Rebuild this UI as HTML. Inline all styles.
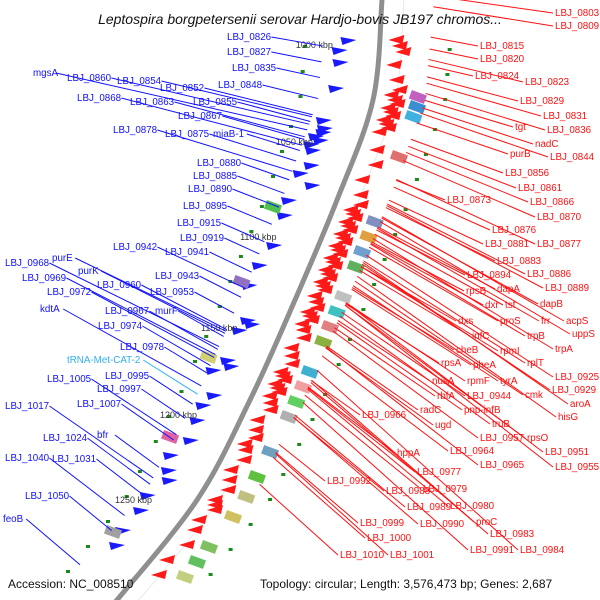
<!DOCTYPE html>
<html><head><meta charset="utf-8"><style>
html,body{margin:0;padding:0;background:#fff;}
svg{display:block;}
text{font-family:"Liberation Sans","DejaVu Sans",sans-serif;}
</style></head><body>
<svg id="chart" width="600" height="600" viewBox="0 0 600 600">
<g id="back"></g>
<path id="backbone" fill="none" stroke="#8f8f8f" stroke-width="5"/>
<g id="lines"></g>
<g id="labels"></g>
<text x="300" y="24" text-anchor="middle" font-size="14" font-style="italic" fill="#111">Leptospira borgpetersenii serovar Hardjo-bovis JB197 chromos...</text>
<text x="8" y="588" font-size="12" fill="#111">Accession: NC_008510</text>
<text x="260" y="588" font-size="12" fill="#111">Topology: circular; Length: 3,576,473 bp; Genes: 2,687</text>
</svg>
<script>
// backbone arc sample points (x at given y)
const arcYs=[-10,0,100,200,300,400,500,600,610];
const arcXs=[383,382,373,337,295,250,197,117,108];
const tickLabels=["1000 kbp","1050 kbp","1100 kbp","1150 kbp","1200 kbp","1250 kbp"];
const tickYs=[45,142,237,328,415,500];
const leftNames=["LBJ_0826","LBJ_0827","LBJ_0835","LBJ_0848","LBJ_0852","LBJ_0854","LBJ_0860","mgsA","LBJ_0868","LBJ_0863","LBJ_0855","LBJ_0867","LBJ_0878","LBJ_0875","miaB-1","LBJ_0880","LBJ_0885","LBJ_0890","LBJ_0895","LBJ_0915","LBJ_0919","LBJ_0942","LBJ_0941","LBJ_0968","purE","purK","LBJ_0969","LBJ_0960","LBJ_0943","LBJ_0972","LBJ_0953","kdtA","LBJ_0967","murF","LBJ_0974","LBJ_0978","tRNA-Met-CAT-2","LBJ_0995","LBJ_1005","LBJ_0997","LBJ_1017","LBJ_1007","bfr","LBJ_1024","LBJ_1040","LBJ_1031","LBJ_1050","feoB"];
const leftX=[227,227,232,218,160,117,67,33,77,130,193,178,113,165,213,197,193,188,183,177,180,113,165,5,52,78,22,97,155,47,150,40,105,155,98,120,67,105,47,97,5,77,97,43,5,52,25,3];
const leftY=[40,55,71,88,91,84,81,76,101,105,105,119,133,137,137,166,179,192,209,226,241,250,255,266,261,274,281,288,279,295,295,312,314,314,329,350,363,379,382,392,409,407,438,441,461,462,499,522];
const rightNames=["LBJ_0803","LBJ_0809","LBJ_0815","LBJ_0820","LBJ_0824","LBJ_0823","LBJ_0829","LBJ_0831","tgt","LBJ_0836","nadC","purB","LBJ_0844","LBJ_0856","LBJ_0861","LBJ_0873","LBJ_0866","LBJ_0870","LBJ_0876","LBJ_0881","LBJ_0877","LBJ_0883","LBJ_0894","LBJ_0886","rpsB","dapA","LBJ_0889","dxr","tsf","dapB","dxs","proS","frr","acpS","infC","trpB","uppS","cheB","rpmI","trpA","rpsA","pheA","rplT","nusA","rpmF","tyrA","LBJ_0925","cmk","LBJ_0929","LBJ_0944","rbfA","aroA","radC","pnp-infB","LBJ_0966","truB","ugd","hisG","rpsO","LBJ_0957","LBJ_0951","LBJ_0964","LBJ_0965","LBJ_0955","hppA","LBJ_0977","LBJ_0992","LBJ_0979","LBJ_0988","LBJ_0980","LBJ_0989","proC","LBJ_0990","LBJ_0983","LBJ_0999","LBJ_1000","LBJ_0991","LBJ_0984","LBJ_1010","LBJ_1001"];
const rightX=[555,555,480,480,475,525,520,543,515,547,535,510,550,505,518,447,530,537,492,485,537,497,467,527,466,497,545,485,505,540,458,500,541,566,472,527,572,456,500,555,441,473,527,432,467,500,555,525,552,467,437,570,420,464,362,492,435,558,527,480,545,450,480,555,397,417,327,423,386,450,407,476,420,490,360,367,470,520,340,390];
const rightY=[16,29,49,62,79,85,104,119,130,133,147,157,160,176,191,203,205,220,233,247,247,264,278,277,294,292,291,308,308,307,324,324,324,324,339,339,337,353,354,352,366,368,366,384,384,384,380,398,393,399,399,407,413,413,418,427,428,420,441,441,455,454,468,470,456,475,484,492,494,509,510,525,527,537,526,541,553,553,558,558];
const redArrowYs=[40,46,52,65,80,90,95,100,104,108,112,116,120,124,128,132,150,165,180,195,205,210,214,218,222,226,230,234,238,242,246,250,254,258,262,266,270,274,278,282,286,290,296,302,308,312,316,320,324,330,338,348,356,364,372,376,380,384,388,392,396,403,410,420,430,438,444,450,460,470,480,490,500,505,510,520,530,545,560,575];
const blueArrowYs=[40,50,62,88,120,128,132,136,140,144,150,165,173,185,200,215,245,265,285,320,324,330,360,366,370,395,405,420,440,455,470,480,495,510,530,545];
const blueOff=[-22,-30,-28,-30,-34,-30,-30,-36,-30,-38,-34,-30,-38,-22,-40,-38,-36,-42,-44,-30,-24,-34,-32,-26,-42,-30,-36,-34,-30,-42,-36,-30,-44,-40,-42,-36];
const boxYs=[90,100,110,150,200,215,230,245,260,275,290,305,320,335,350,365,380,395,410,430,445,470,490,510,525,540,555,570];
const boxColors=["#c060c0","#3a8fd0","#40b0e0","#e07070","#50c050","#8090c0","#e0a040","#70a0d0","#60b060","#9070c0","#c0c0c0","#40c0c0","#e08080","#8ab040","#d0d070","#40b0d0","#f0a0a0","#60d060","#b0b0b0","#e060a0","#70a0c0","#60c040","#c0c080","#d0c060","#a0a0a0","#80c060","#60c060","#c0d080"];
const dotYs=[45,70,95,125,150,175,205,230,255,280,305,335,360,390,415,440,470,495,520,545,570];

function arcX(y){for(let i=0;i<arcYs.length-1;i++){if(y>=arcYs[i]&&y<=arcYs[i+1]){const t=(y-arcYs[i])/(arcYs[i+1]-arcYs[i]);return arcXs[i]+t*(arcXs[i+1]-arcXs[i]);}}return arcXs[arcXs.length-1];}
const NS="http://www.w3.org/2000/svg";
function mk(tag,attrs,parent){const e=document.createElementNS(NS,tag);for(const k in attrs)e.setAttribute(k,attrs[k]);parent.appendChild(e);return e;}
let d="M"+arcXs[0]+","+arcYs[0];
for(let i=0;i<arcXs.length-1;i++){const p0=[arcXs[Math.max(i-1,0)],arcYs[Math.max(i-1,0)]],p1=[arcXs[i],arcYs[i]],p2=[arcXs[i+1],arcYs[i+1]],p3=[arcXs[Math.min(i+2,arcXs.length-1)],arcYs[Math.min(i+2,arcXs.length-1)]];
d+=" C"+(p1[0]+(p2[0]-p0[0])/6)+","+(p1[1]+(p2[1]-p0[1])/6)+" "+(p2[0]-(p3[0]-p1[0])/6)+","+(p2[1]-(p3[1]-p1[1])/6)+" "+p2[0]+","+p2[1];}
document.getElementById('backbone').setAttribute('d',d);
const back=document.getElementById('back'),lines=document.getElementById('lines'),labels=document.getElementById('labels');
const ring=mk('path',{d:d,fill:'none',stroke:'#e8e8e8','stroke-width':1,transform:'translate(22,0)'},back);


redArrowYs.forEach((y,i)=>{const x=arcX(y)+10+(i%3)*4;
const t=mk('polygon',{points:(x)+","+(y)+" "+(x+16)+","+(y-5)+" "+(x+14)+","+(y+4),fill:'#ff1a1a'},back);

});
blueArrowYs.forEach((y,i)=>{const x=arcX(y)+blueOff[i];
const t=mk('polygon',{points:(x)+","+(y)+" "+(x-16)+","+(y-3)+" "+(x-14)+","+(y+5),fill:'#1a1aff'},back);

});
boxYs.forEach((y,i)=>{const side=(i%5===4)?-1:1;const x=side>0?arcX(y)+38:arcX(y)-70;
const r=mk('rect',{x:x,y:y,width:16,height:9,fill:boxColors[i],transform:'rotate(20 '+x+' '+y+')'},back);

});
dotYs.forEach((y,i)=>{[[-75,0],[70,3]].forEach(o=>{const c=mk('rect',{x:arcX(y+o[1])+o[0],y:y+o[1],width:4,height:3,fill:'#1a8a1a'},back);

});});
tickLabels.forEach((s,i)=>{const y=tickYs[i];const t=mk('text',{x:arcX(y)-45,y:y+3,'font-size':9,'text-anchor':'end',fill:'#333'},back);t.textContent=s;

});
function slope(y){return 0.12+0.0014*y;}
function charW(s){return s.length*5.3;}
leftNames.forEach((s,i)=>{const x=leftX[i],y=leftY[i];const col=s.startsWith('tRNA')?'#30b0f0':'#1010ff';
const t=mk('text',{x:x,y:y,'font-size':9.8,fill:col},labels);t.textContent=s;


const sx=x+charW(s)+2,sy=y-3;const m=slope(y);let ex=sx,ey=sy;for(let k=0;k<6;k++){ex=arcX(ey)-55;ey=sy+(ex-sx)*m;}
if(ex<sx){ex=sx+5;ey=sy;}
const l=mk('line',{x1:sx,y1:sy,x2:ex,y2:ey,stroke:col,'stroke-width':1},lines);

});
rightNames.forEach((s,i)=>{const x=rightX[i],y=rightY[i];
const t=mk('text',{x:x,y:y,'font-size':9.8,fill:'#ff1010'},labels);t.textContent=s;


const sx=x-2,sy=y-3;const m=slope(y);let ex=sx,ey=sy;for(let k=0;k<6;k++){ex=arcX(ey)+52;ey=sy-(sx-ex)*m;}
if(ex>sx){ex=sx-5;ey=sy;}
const l=mk('line',{x1:sx,y1:sy,x2:ex,y2:ey,stroke:'#ff1010','stroke-width':1},lines);

});
</script>
</body></html>
